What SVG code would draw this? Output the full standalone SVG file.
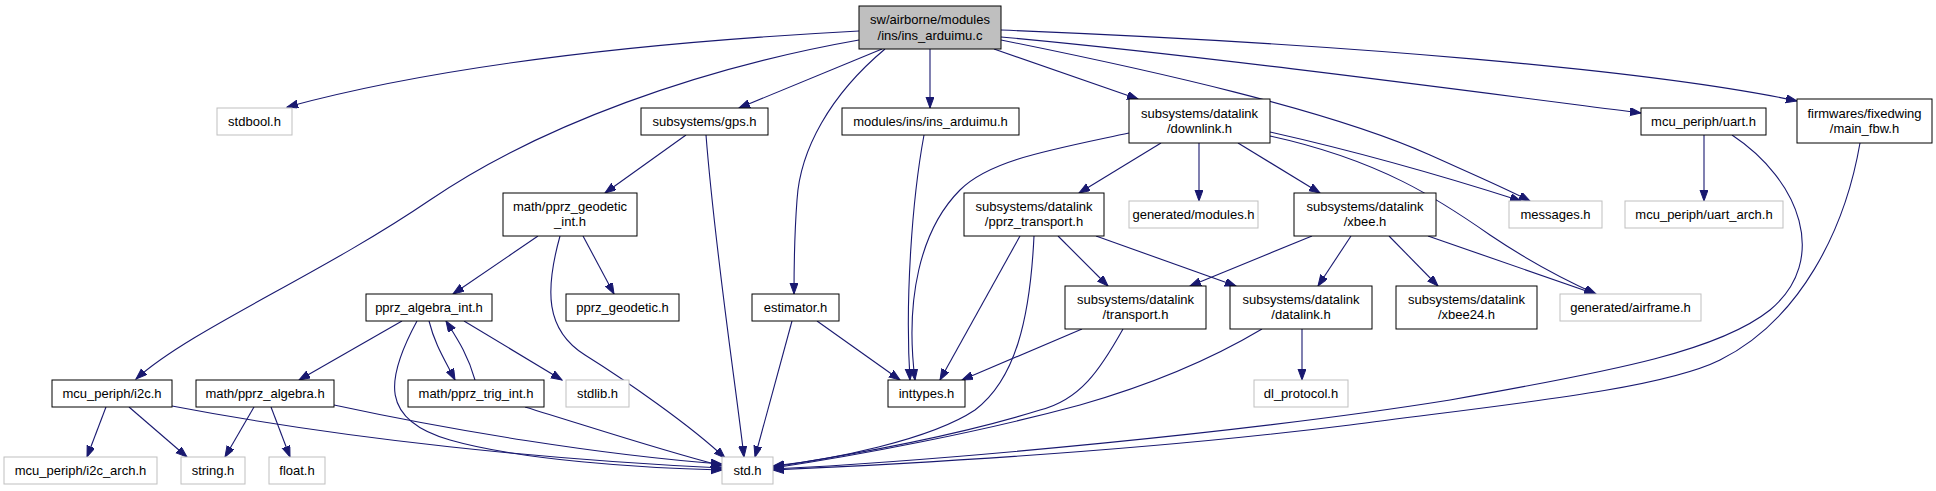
<svg xmlns="http://www.w3.org/2000/svg" width="1936" height="491" viewBox="0 0 1936 491">
<style>
.n rect{fill:#fff;stroke:#000;stroke-width:1}
.g rect{fill:#fff;stroke:#bfbfbf;stroke-width:1}
.r rect{fill:#bfbfbf;stroke:#000;stroke-width:1}
text{font-family:"Liberation Sans",Arial,sans-serif;font-size:13px;text-anchor:middle;fill:#000}
#edges path{fill:none;stroke:#191970;stroke-width:1.1;marker-end:url(#ah)}
</style>
<defs>
<marker id="ah" markerUnits="userSpaceOnUse" markerWidth="12" markerHeight="9" refX="11" refY="4" orient="auto">
<path d="M0,0 L11,4 L0,8 z" fill="#191970" stroke="#191970" stroke-width="1"/>
</marker>
</defs>
<rect width="1936" height="491" fill="#fff"/>
<g id="edges">
<path d="M859,31 C690,40 460,60 287,107"/>
<path d="M859,40 C700,68 540,125 430,200 C320,275 190,330 136,379"/>
<path d="M882,49 L739,108"/>
<path d="M885,49 C830,95 800,150 797,200 C794,240 794,270 794,294"/>
<path d="M930,49 L930,108"/>
<path d="M994,49 L1138,99"/>
<path d="M1001,30 C1350,44 1650,70 1797,101"/>
<path d="M1001,37 C1200,55 1500,95 1641,113"/>
<path d="M1001,40 C1150,70 1330,110 1430,155 C1470,173 1505,188 1530,201"/>
<path d="M1270,132 C1350,150 1440,175 1521,201"/>
<path d="M1270,136 C1380,160 1440,200 1490,235 C1530,262 1565,280 1596,294"/>
<path d="M1129,133 C1050,150 990,160 960,190 C920,230 905,300 915,380"/>
<path d="M1161,143 L1079,193"/>
<path d="M1199,143 L1199,201"/>
<path d="M1238,143 L1320,193"/>
<path d="M924,135 C912,200 905,300 910,380"/>
<path d="M686,135 L605,193"/>
<path d="M706,135 C715,250 735,380 744,457"/>
<path d="M538,236 L453,294"/>
<path d="M583,236 L614,294"/>
<path d="M560,236 C545,290 545,330 585,355 C625,380 690,425 725,458"/>
<path d="M402,321 L299,380"/>
<path d="M417,321 C385,380 380,420 450,440 C520,460 640,468 722,470"/>
<path d="M429,321 C435,345 445,360 455,380"/>
<path d="M475,380 C468,355 458,340 446,321"/>
<path d="M464,321 L562,380"/>
<path d="M525,407 C600,430 660,450 722,466"/>
<path d="M254,407 L225,457"/>
<path d="M271,407 L290,457"/>
<path d="M334,405 C450,430 600,455 722,464"/>
<path d="M106,407 L87,457"/>
<path d="M129,407 L187,457"/>
<path d="M172,406 C350,440 550,460 722,468"/>
<path d="M817,321 L900,380"/>
<path d="M792,321 L755,457"/>
<path d="M1020,236 L940,380"/>
<path d="M1034,236 C1030,320 1015,380 975,410 C930,440 830,460 773,466"/>
<path d="M1058,236 L1108,286"/>
<path d="M1096,236 L1236,286"/>
<path d="M1312,236 L1190,286"/>
<path d="M1351,236 L1318,286"/>
<path d="M1389,236 L1438,286"/>
<path d="M1428,236 L1595,294"/>
<path d="M1082,329 L962,380"/>
<path d="M1123,329 C1100,370 1080,400 1040,410 C960,435 850,455 773,467"/>
<path d="M1302,329 L1302,380"/>
<path d="M1262,329 C1210,360 1150,385 1080,405 C980,432 860,455 773,468"/>
<path d="M1704,135 L1704,201"/>
<path d="M1732,135 C1800,180 1830,260 1770,310 C1720,350 1620,370 1450,400 C1250,432 950,460 773,469"/>
<path d="M1860,143 C1845,230 1800,320 1720,360 C1660,390 1500,405 1350,425 C1150,450 950,462 773,470"/>
</g>
<g id="root" class="r"><rect x="859" y="6" width="142" height="43"/><text x="930" y="24">sw/airborne/modules</text><text x="930" y="39.5">/ins/ins_arduimu.c</text></g>
<g id="stdbool" class="g"><rect x="217" y="108" width="75" height="27"/><text x="254.5" y="126">stdbool.h</text></g>
<g id="gps" class="n"><rect x="641" y="108" width="127" height="27"/><text x="704.5" y="126">subsystems/gps.h</text></g>
<g id="ins_arduimu_h" class="n"><rect x="842" y="108" width="177" height="27"/><text x="930.5" y="126">modules/ins/ins_arduimu.h</text></g>
<g id="downlink" class="n"><rect x="1129" y="99" width="141" height="44"/><text x="1199.5" y="117.5">subsystems/datalink</text><text x="1199.5" y="132.5">/downlink.h</text></g>
<g id="uart" class="n"><rect x="1641" y="108" width="125" height="27"/><text x="1703.5" y="126">mcu_periph/uart.h</text></g>
<g id="main_fbw" class="n"><rect x="1797" y="99" width="135" height="44"/><text x="1864.5" y="117.5">firmwares/fixedwing</text><text x="1864.5" y="132.5">/main_fbw.h</text></g>
<g id="geodetic_int" class="n"><rect x="503" y="193" width="134" height="43"/><text x="570" y="211">math/pprz_geodetic</text><text x="570" y="226">_int.h</text></g>
<g id="pprz_transport" class="n"><rect x="964" y="193" width="140" height="43"/><text x="1034" y="211">subsystems/datalink</text><text x="1034" y="226">/pprz_transport.h</text></g>
<g id="modules" class="g"><rect x="1129" y="201" width="129" height="27"/><text x="1193.5" y="219">generated/modules.h</text></g>
<g id="xbee" class="n"><rect x="1294" y="193" width="142" height="43"/><text x="1365" y="211">subsystems/datalink</text><text x="1365" y="226">/xbee.h</text></g>
<g id="messages" class="g"><rect x="1509" y="201" width="93" height="27"/><text x="1555.5" y="219">messages.h</text></g>
<g id="uart_arch" class="g"><rect x="1625" y="201" width="158" height="27"/><text x="1704" y="219">mcu_periph/uart_arch.h</text></g>
<g id="algebra_int" class="n"><rect x="366" y="294" width="126" height="27"/><text x="429" y="312">pprz_algebra_int.h</text></g>
<g id="geodetic" class="n"><rect x="566" y="294" width="113" height="27"/><text x="622.5" y="312">pprz_geodetic.h</text></g>
<g id="estimator" class="n"><rect x="752" y="294" width="87" height="27"/><text x="795.5" y="312">estimator.h</text></g>
<g id="transport" class="n"><rect x="1065" y="286" width="141" height="43"/><text x="1135.5" y="304">subsystems/datalink</text><text x="1135.5" y="319">/transport.h</text></g>
<g id="datalink" class="n"><rect x="1230" y="286" width="142" height="43"/><text x="1301" y="304">subsystems/datalink</text><text x="1301" y="319">/datalink.h</text></g>
<g id="xbee24" class="n"><rect x="1396" y="286" width="141" height="43"/><text x="1466.5" y="304">subsystems/datalink</text><text x="1466.5" y="319">/xbee24.h</text></g>
<g id="airframe" class="g"><rect x="1560" y="294" width="141" height="27"/><text x="1630.5" y="312">generated/airframe.h</text></g>
<g id="i2c" class="n"><rect x="52" y="380" width="120" height="27"/><text x="112" y="398">mcu_periph/i2c.h</text></g>
<g id="pprz_algebra" class="n"><rect x="196" y="380" width="138" height="27"/><text x="265" y="398">math/pprz_algebra.h</text></g>
<g id="trig_int" class="n"><rect x="408" y="380" width="136" height="27"/><text x="476" y="398">math/pprz_trig_int.h</text></g>
<g id="stdlib" class="g"><rect x="566" y="380" width="63" height="27"/><text x="597.5" y="398">stdlib.h</text></g>
<g id="inttypes" class="n"><rect x="888" y="380" width="77" height="27"/><text x="926.5" y="398">inttypes.h</text></g>
<g id="dl_protocol" class="g"><rect x="1254" y="380" width="94" height="27"/><text x="1301" y="398">dl_protocol.h</text></g>
<g id="i2c_arch" class="g"><rect x="4" y="457" width="153" height="27"/><text x="80.5" y="475">mcu_periph/i2c_arch.h</text></g>
<g id="string" class="g"><rect x="181" y="457" width="64" height="27"/><text x="213" y="475">string.h</text></g>
<g id="float" class="g"><rect x="269" y="457" width="56" height="27"/><text x="297" y="475">float.h</text></g>
<g id="std" class="g"><rect x="722" y="457" width="51" height="27"/><text x="747.5" y="475">std.h</text></g>
</svg>
